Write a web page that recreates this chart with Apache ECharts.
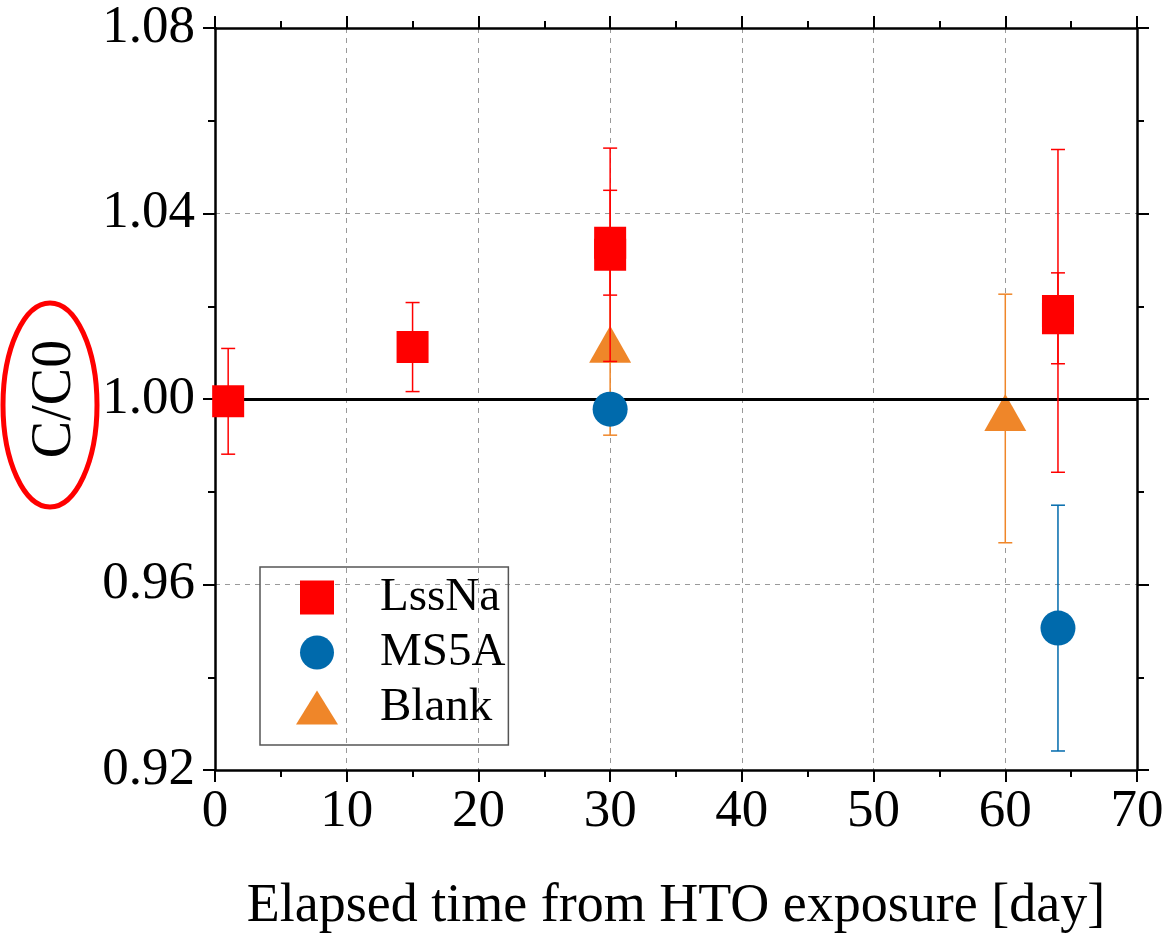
<!DOCTYPE html>
<html>
<head>
<meta charset="utf-8">
<script src="https://cdn.jsdelivr.net/npm/echarts@6/dist/echarts.min.js"></script>
<style>
html,body{margin:0;padding:0;background:#fff}
#main{width:1165px;height:934px}
</style>
</head>
<body>
<div id="main"></div>
<script>
// values
const lssnaX = [1, 15, 30, 30, 64, 64];
const lssnaY = [0.9995, 1.0112, 1.0311, 1.0337, 1.0190, 1.0174];
const lssnaErr = [0.0114, 0.0096, 0.0230, 0.0113, 0.0348, 0.0098];

const ms5aX = [30, 64];
const ms5aY = [0.9978, 0.9506];
const ms5aErr = [0.003, 0.0265];

const blankX = [30, 60];
const blankY = [1.0105, 0.9958];
const blankErr = [0.0183, 0.0268];

const xRange = [0, 70, 10];
const yRange = [0.92, 1.08, 0.04];
const refLine = 1.0;

const FONT = 'Liberation Serif';
const RED = '#ff0000', BLUE = '#006aac', ORANGE = '#ef8629';

const chartDom = document.getElementById('main');
const myChart = echarts.init(chartDom);

const pts = (xs, ys) => xs.map((x, i) => [x, ys[i]]);
const bars = (xs, ys, es) => xs.map((x, i) => [x, ys[i] - es[i], ys[i] + es[i]]);

// vertical error bar with caps
function errorBar(color) {
  return function (params, api) {
    const x = api.value(0);
    const top = api.coord([x, api.value(2)]);
    const bot = api.coord([x, api.value(1)]);
    const w = 7;
    const style = { stroke: color, lineWidth: 1.5 };
    return {
      type: 'group',
      children: [
        { type: 'line', shape: { x1: top[0], y1: top[1], x2: bot[0], y2: bot[1] }, style },
        { type: 'line', shape: { x1: top[0] - w, y1: top[1], x2: top[0] + w, y2: top[1] }, style },
        { type: 'line', shape: { x1: bot[0] - w, y1: bot[1], x2: bot[0] + w, y2: bot[1] }, style }
      ]
    };
  };
}

const axisBase = {
  type: 'value',
  axisLine: { show: true, onZero: false, lineStyle: { color: '#000', width: 2.5 } },
  axisTick: { show: true, inside: false, length: 12, lineStyle: { color: '#000', width: 2 } },
  minorTick: { show: true, splitNumber: 2, length: 7, lineStyle: { color: '#000', width: 2 } },
};

const option = {
  animation: false,
  backgroundColor: '#fff',
  grid: { left: 215, right: 28, top: 28, bottom: 164, outerBoundsMode: 'none', containLabel: false },
  xAxis: [
    Object.assign({}, axisBase, {
      min: xRange[0], max: xRange[1], interval: xRange[2],
      name: 'Elapsed time from HTO exposure [day]',
      nameLocation: 'middle', nameGap: 110,
      nameTextStyle: { fontFamily: FONT, fontSize: 54, color: '#000' },
      axisLabel: { fontFamily: FONT, fontSize: 53, color: '#000', margin: 16 },
      splitLine: { show: true, lineStyle: { color: '#999', type: [5, 5], width: 1 } }
    }),
    Object.assign({}, axisBase, {
      position: 'top',
      min: xRange[0], max: xRange[1], interval: xRange[2],
      axisLabel: { show: false },
      splitLine: { show: false }
    })
  ],
  yAxis: [
    Object.assign({}, axisBase, {
      min: yRange[0], max: yRange[1], interval: yRange[2],
      name: 'C/C0',
      nameLocation: 'middle', nameGap: 132,
      nameTextStyle: { fontFamily: FONT, fontSize: 56, color: '#000' },
      axisLabel: { fontFamily: FONT, fontSize: 53, color: '#000', margin: 20,
        formatter: v => v.toFixed(2) },
      splitLine: { show: true, lineStyle: { color: '#999', type: [5, 5], width: 1 } }
    }),
    Object.assign({}, axisBase, {
      position: 'right',
      min: yRange[0], max: yRange[1], interval: yRange[2],
      axisLabel: { show: false },
      splitLine: { show: false }
    })
  ],
  legend: {
    orient: 'vertical',
    left: 260, top: 567,
    data: [
      { name: 'LssNa', icon: 'path://M0,0L10,0L10,10L0,10Z' },
      { name: 'MS5A', icon: 'path://M20,10A10,10,0,1,1,0,10A10,10,0,1,1,20,10Z' },
      { name: 'Blank', icon: 'triangle' }
    ],
    itemWidth: 42, itemHeight: 34, itemGap: 8,
    padding: [7, 3, 14, 36],
    borderColor: '#555', borderWidth: 1.5,
    textStyle: { fontFamily: FONT, fontSize: 47, color: '#000', padding: [0, 0, 0, 37] }
  },
  graphic: [
    { type: 'ellipse', shape: { cx: 50, cy: 405, rx: 47, ry: 102 },
      style: { fill: null, stroke: '#ff0000', lineWidth: 5 }, z: 10 }
  ],
  series: [
    { name: 'Blank err', type: 'custom', renderItem: errorBar(ORANGE),
      data: bars(blankX, blankY, blankErr), encode: { x: 0, y: [1, 2] }, z: 2, silent: true },
    { name: 'Blank', type: 'scatter', symbol: 'triangle', symbolSize: [42, 37],
      symbolOffset: [0, -6], symbolKeepAspect: true,
      itemStyle: { color: ORANGE, opacity: 1 }, data: pts(blankX, blankY), z: 3 },
    { name: 'MS5A err', type: 'custom', renderItem: errorBar(BLUE),
      data: bars(ms5aX, ms5aY, ms5aErr), encode: { x: 0, y: [1, 2] }, z: 4, silent: true },
    { name: 'MS5A', type: 'scatter', symbol: 'circle', symbolSize: 35, symbolKeepAspect: true,
      itemStyle: { color: BLUE, opacity: 1 }, data: pts(ms5aX, ms5aY), z: 5 },
    { name: 'LssNa err', type: 'custom', renderItem: errorBar(RED),
      data: bars(lssnaX, lssnaY, lssnaErr), encode: { x: 0, y: [1, 2] }, z: 6, silent: true },
    { name: 'LssNa', type: 'scatter', symbol: 'rect', symbolSize: 32, symbolKeepAspect: true,
      itemStyle: { color: RED, opacity: 1 }, data: pts(lssnaX, lssnaY), z: 7,
      markLine: {
        silent: true, symbol: 'none', label: { show: false },
        lineStyle: { color: '#000', width: 3, type: 'solid' },
        data: [{ yAxis: refLine }]
      }
    }
  ]
};

option && myChart.setOption(option);
</script>
</body>
</html>
